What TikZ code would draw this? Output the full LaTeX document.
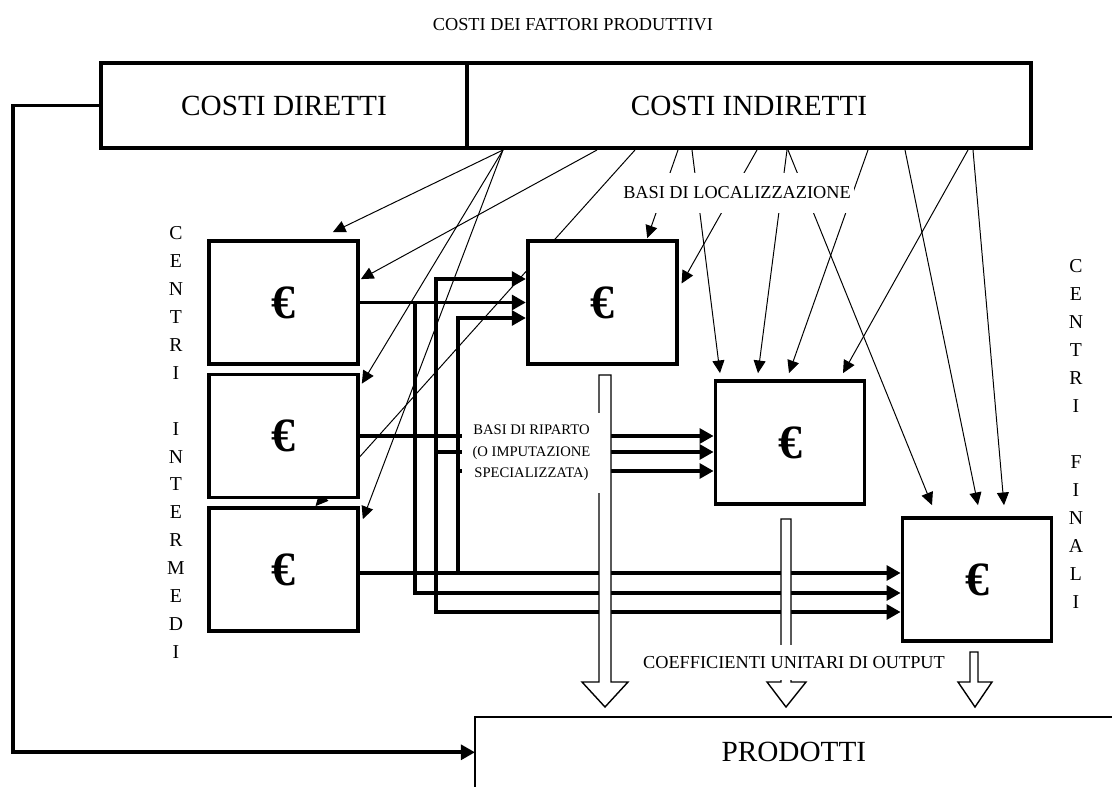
\documentclass[tikz,border=0pt]{standalone}
\usepackage{fontspec}
\setmainfont{Liberation Serif}
\usetikzlibrary{arrows.meta,positioning,calc,backgrounds}

\begin{document}
\begin{tikzpicture}[
    x=0.025cm, y=-0.025cm,
    costbox/.style={rectangle, draw, line width=2.6pt, minimum height=2.125cm,
        font=\fontsize{20.8}{25}\selectfont},
    centrebox/.style={rectangle, draw, fill=white, line width=2.6pt,
        minimum width=3.725cm, minimum height=3.075cm,
        font=\fontsize{34}{40}\selectfont\bfseries},
    spine/.style={align=center, inner sep=0pt, font=\fontsize{14}{19.9}\selectfont},
    note/.style={fill=white, inner xsep=2pt, font=\fontsize{13}{16}\selectfont},
    alloc/.style={line width=2.6pt, >={Triangle[length=10pt, width=10.5pt]}, ->},
    locate/.style={line width=0.7pt, -{Triangle[length=9pt, width=8.5pt]}},
    outflow/.style={draw, fill=white, line width=1pt}
]
\useasboundingbox (0,0) rectangle (1112,787);

\node[note] (title) at (573,25) {COSTI DEI FATTORI PRODUTTIVI};
\node[costbox, minimum width=9.15cm] (dir) at (284,105.5) {COSTI DIRETTI};
\node[costbox, minimum width=14.1cm] (indir) at (749,105.5) {COSTI INDIRETTI};

\node[centrebox] (inter1) at (283.5,302.5) {€};
\node[centrebox, below=0.17cm of inter1] (inter2) {€};
\node[centrebox, below=0.17cm of inter2] (inter3) {€};
\node[centrebox, right=4.15cm of inter1] (final1) {€};
\node[centrebox] (final2) at (790,442.5) {€};
\node[centrebox] (final3) at (977,579.5) {€};

\node[spine] (intlab) at (176,442.5) {C\\E\\N\\T\\R\\I\\[19.9pt]I\\N\\T\\E\\R\\M\\E\\D\\I};
\node[spine] (finlab) at (1076,434) {C\\E\\N\\T\\R\\I\\[19.9pt]F\\I\\N\\A\\L\\I};

\node[anchor=north west, minimum width=15.925cm, minimum height=1.75cm,
      font=\fontsize{20.8}{25}\selectfont] (prod) at (475,717) {PRODOTTI};
\draw[line width=1.4pt] (prod.south west) |- (prod.north east);

\foreach \n/\x in {1/503,2/597,3/635,4/678,5/692,6/757,7/787,8/788,9/868,10/905,11/968,12/973}
    \coordinate (cost\n) at (\x,150);
\coordinate (busa) at (415,593);
\coordinate (busb1) at (436,279);
\coordinate (busb2) at (436,612);
\coordinate (busb3) at (436,452);
\coordinate (busc) at (458,573);
\coordinate (busc1) at (458,318);
\coordinate (busc3) at (458,471);

\begin{pgfonlayer}{background}
% ribaltamento
\draw[alloc] (dir.west) -- ++(-86,0) |- (prod.west);
\draw[alloc] (inter1.east) -- (final1.west);
\draw[alloc] (inter1.east) -| (busa) -- (final3.west |- busa);
\draw[alloc] (inter2.east) -- (final2.west |- inter2.east);
\draw[alloc, <->] (final1.west |- busb1) -| (busb2) -- (final3.west |- busb2);
\draw[alloc] (busb3) -- (final2.west |- busb3);
\draw[alloc] (inter3.east |- busc) -- (final3.west |- busc);
\draw[alloc] (busc) |- (final1.west |- busc1);
\draw[alloc] (busc3) -- (final2.west |- busc3);
% localizzazione
\draw[locate] (cost1) -- ($(inter1.north east)+(-27,-7)$);
\draw[locate] (cost2) -- ($(inter1.north east)+(1,40)$);
\draw[locate] (cost1) -- ($(inter2.north east)+(2,11)$);
\draw[locate] (cost1) -- ($(inter3.north east)+(3,13)$);
\draw[locate] (cost3) -- ($(inter3.north)+(32,0)$);
\draw[locate] (cost4) -- ($(final1.north)+(45,-1)$);
\draw[locate] (cost6) -- ($(final1.east)+(3,-19)$);
\draw[locate] (cost5) -- ($(final2.north)+(-70,-6)$);
\draw[locate] (cost7) -- ($(final2.north)+(-32,-6)$);
\draw[locate] (cost9) -- ($(final2.north)+(-1,-6)$);
\draw[locate] (cost11) -- ($(final2.north)+(53,-6)$);
\draw[locate] (cost8) -- ($(final3.north)+(-45,-11)$);
\draw[locate] (cost10) -- ($(final3.north)+(1,-11)$);
\draw[locate] (cost12) -- ($(final3.north)+(27,-11)$);
\end{pgfonlayer}

\draw[outflow] (599,375) -- (611,375) -- (611,682) -- (628,682) -- (605,707) -- (582,682) -- (599,682) -- cycle;
\draw[outflow] (781,519) -- (791,519) -- (791,682) -- (806,682) -- (786,707) -- (767,682) -- (781,682) -- cycle;
\draw[outflow] (970,652) -- (978,652) -- (978,682) -- (992,682) -- (975,707) -- (958,682) -- (970,682) -- cycle;

\node[note, minimum height=1cm] (loc) at (737,193) {BASI DI LOCALIZZAZIONE};
\node[note, align=center, inner sep=0pt, minimum width=3.475cm, minimum height=2cm,
      font=\fontsize{10.4}{15.3}\selectfont] (rip) at (531.5,453)
      {BASI DI RIPARTO\\(O IMPUTAZIONE\\SPECIALIZZATA)};
\node[note, minimum height=0.85cm] (coef) at (794,662.5) {COEFFICIENTI UNITARI DI OUTPUT};
\end{tikzpicture}
\end{document}
